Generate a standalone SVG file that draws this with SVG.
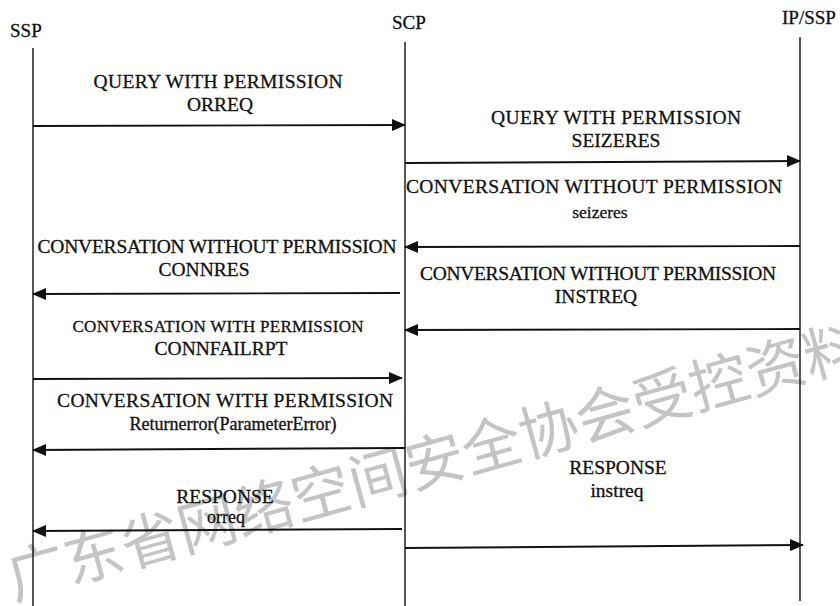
<svg xmlns="http://www.w3.org/2000/svg" width="840" height="606" viewBox="0 0 840 606">
<style>
.t{font-family:"Liberation Serif","Times New Roman",serif;font-size:19.5px;fill:#111;stroke:#111;stroke-width:0.3;text-anchor:middle}
.h{font-family:"Liberation Serif","Times New Roman",serif;font-size:19px;fill:#111;stroke:#111;stroke-width:0.3}
.life{stroke:#111;stroke-width:1.4;fill:none}
.msg{stroke:#111;stroke-width:1.9;fill:none;marker-end:url(#ah)}
.wm{font-family:"Noto Sans CJK SC","Noto Sans",sans-serif;font-size:59px;font-weight:400;fill:#c4c4c4}
</style>
<defs>
<marker id="ah" markerUnits="userSpaceOnUse" markerWidth="14" markerHeight="12" viewBox="0 0 14 12" refX="13" refY="6" orient="auto">
<path d="M0,0 L14,6 L0,12 Z" fill="#111"/>
</marker>
</defs>
<rect width="840" height="606" fill="#fff"/>
<text class="wm" x="14" y="600" transform="rotate(-15.5 14 600)">广东省网络空间安全协会受控资料</text>

<g id="ssp"><text class="h" x="10" y="37">SSP</text><line class="life" x1="33" y1="48" x2="33" y2="606"/></g>
<g id="scp"><text class="h" x="392" y="29">SCP</text><line class="life" x1="405" y1="42" x2="405" y2="606"/></g>
<g id="ipssp"><text class="h" x="782" y="24">IP/SSP</text><line class="life" x1="800" y1="37" x2="800" y2="601"/></g>

<g id="labels">
<text class="t" x="218" y="88" textLength="249">QUERY WITH PERMISSION</text>
<text class="t" x="220" y="111">ORREQ</text>
<text class="t" x="616" y="124" textLength="250">QUERY WITH PERMISSION</text>
<text class="t" x="616" y="147">SEIZERES</text>
<text class="t" x="594" y="193" textLength="376">CONVERSATION WITHOUT PERMISSION</text>
<text class="t" x="600" y="218" style="font-size:17.5px">seizeres</text>
<text class="t" x="217" y="253" textLength="359">CONVERSATION WITHOUT PERMISSION</text>
<text class="t" x="204" y="276">CONNRES</text>
<text class="t" x="598" y="280" textLength="356">CONVERSATION WITHOUT PERMISSION</text>
<text class="t" x="596" y="303">INSTREQ</text>
<text class="t" x="218" y="332" style="font-size:17px" textLength="291">CONVERSATION WITH PERMISSION</text>
<text class="t" x="221" y="355">CONNFAILRPT</text>
<text class="t" x="225" y="407" textLength="336">CONVERSATION WITH PERMISSION</text>
<text class="t" x="233" y="430" style="font-size:18px">Returnerror(ParameterError)</text>
<text class="t" x="618" y="474">RESPONSE</text>
<text class="t" x="617" y="497">instreq</text>
<text class="t" x="225" y="503">RESPONSE</text>
<text class="t" x="226" y="523" style="font-size:18px">orreq</text>
</g>

<g id="connectors">
<line class="msg" x1="33" y1="126" x2="405" y2="125"/>
<line class="msg" x1="405" y1="163" x2="800" y2="161"/>
<line class="msg" x1="800" y1="246" x2="405" y2="247"/>
<line class="msg" x1="400" y1="293" x2="33" y2="294"/>
<line class="msg" x1="800" y1="329" x2="405" y2="330"/>
<line class="msg" x1="33" y1="379" x2="402" y2="378"/>
<line class="msg" x1="405" y1="448" x2="33" y2="450"/>
<line class="msg" x1="402" y1="529" x2="33" y2="531"/>
<line class="msg" x1="405" y1="548" x2="803" y2="545"/>
</g>
</svg>
